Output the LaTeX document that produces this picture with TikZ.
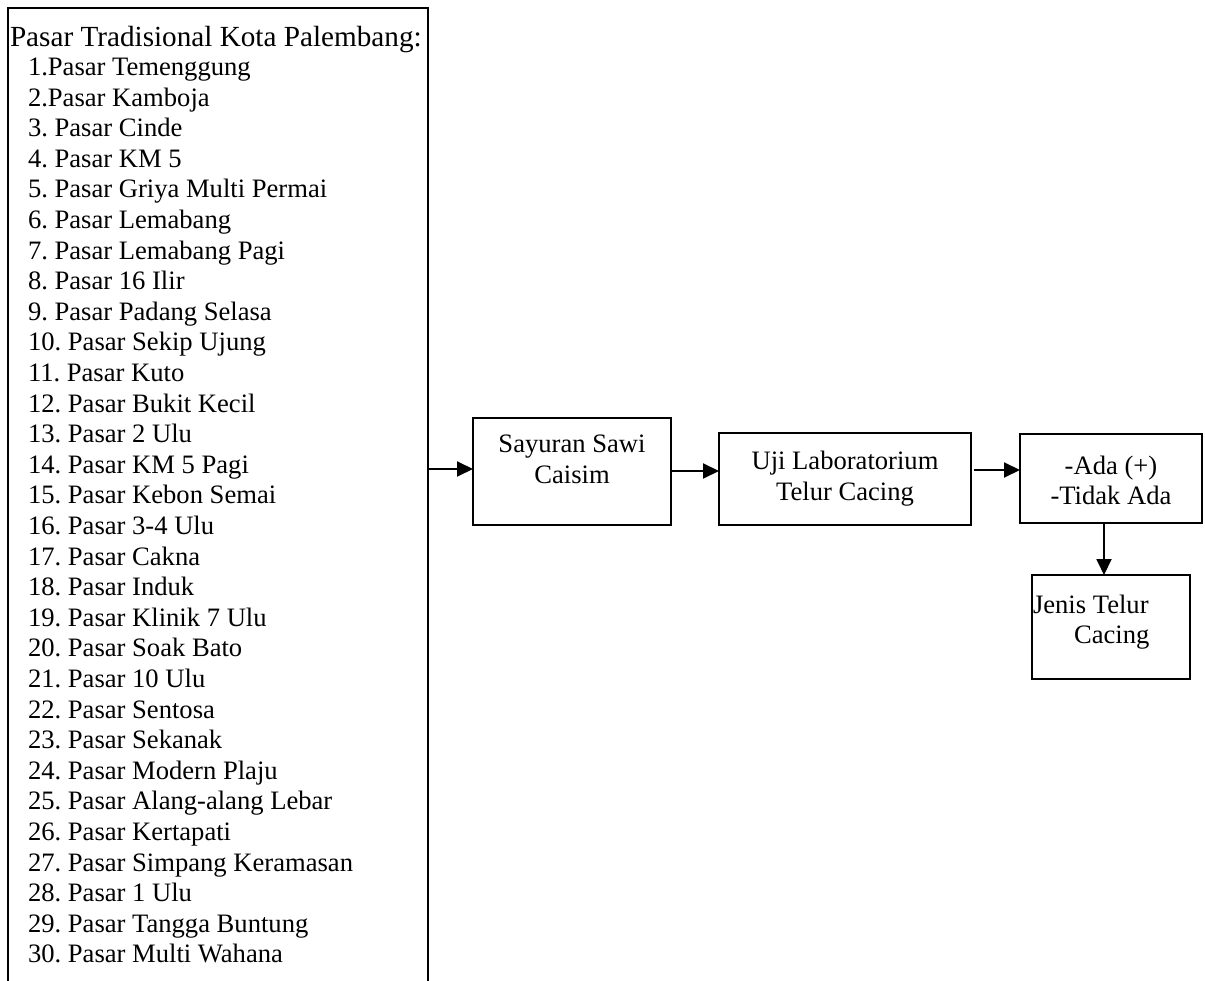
\documentclass[tikz,border=0pt]{standalone}
\usepackage{fontspec}
\setmainfont{Liberation Serif}
\usetikzlibrary{arrows.meta}
\frenchspacing
\begin{document}
\begin{tikzpicture}[x=1pt,y=-1pt,
  lineblk/.style={draw=black,line width=1.9pt},
  bx/.style={draw=black,line width=1.9pt,inner sep=0pt,outer sep=0pt},
  txt/.style={inner sep=0pt,outer sep=0pt,font=\fontsize{26.6}{30.5}\selectfont},
  ttl/.style={inner sep=0pt,outer sep=0pt,font=\fontsize{29.2}{33}\selectfont},
  arr/.style={line width=1.9pt,-{Triangle[length=16pt,width=15pt]}}]
\useasboundingbox (0,0) rectangle (1205,981);
% left list box (open at bottom)
\coordinate (lbl) at (8,995);
\coordinate (ltl) at (8,8);
\coordinate (ltr) at (428,8);
\coordinate (lbr) at (428,995);
\draw[lineblk] (lbl) -- (ltl) -- (ltr) -- (lbr);
\node[ttl,anchor=base west] (title) at (10,47) {Pasar Tradisional Kota Palembang:};
\foreach \n/\t in {1/1.Pasar Temenggung,2/2.Pasar Kamboja,3/3. Pasar Cinde,4/4. Pasar KM 5,
  5/5. Pasar Griya Multi Permai,6/6. Pasar Lemabang,7/7. Pasar Lemabang Pagi,8/8. Pasar 16 Ilir,
  9/9. Pasar Padang Selasa,10/10. Pasar Sekip Ujung,11/11. Pasar Kuto,12/12. Pasar Bukit Kecil,
  13/13. Pasar 2 Ulu,14/14. Pasar KM 5 Pagi,15/15. Pasar Kebon Semai,16/16. Pasar 3-4 Ulu,
  17/17. Pasar Cakna,18/18. Pasar Induk,19/19. Pasar Klinik 7 Ulu,20/20. Pasar Soak Bato,
  21/21. Pasar 10 Ulu,22/22. Pasar Sentosa,23/23. Pasar Sekanak,24/24. Pasar Modern Plaju,
  25/25. Pasar Alang-alang Lebar,26/26. Pasar Kertapati,27/27. Pasar Simpang Keramasan,
  28/28. Pasar 1 Ulu,29/29. Pasar Tangga Buntung,30/30. Pasar Multi Wahana}
  {\node[txt,anchor=base west] (item\n) at (28,{75.5+30.6*(\n-1)}) {\t};}
% boxes
\node[bx,minimum width=198pt,minimum height=107pt] (say) at (572,471.5) {};
\node[txt,anchor=base] (say1) at (572,453) {Sayuran Sawi};
\node[txt,anchor=base] (say2) at (572,483) {Caisim};
\node[bx,minimum width=252pt,minimum height=92pt] (uji) at (845,479) {};
\node[txt,anchor=base] (uji1) at (845,469) {Uji Laboratorium};
\node[txt,anchor=base] (uji2) at (845,500) {Telur Cacing};
\node[bx,minimum width=182pt,minimum height=89pt] (ada) at (1111,478.5) {};
\node[txt,anchor=base] (ada1) at (1111,474) {-Ada (+)};
\node[txt,anchor=base] (ada2) at (1111,504) {-Tidak Ada};
\node[bx,minimum width=158pt,minimum height=104pt] (jen) at (1111,627) {};
\node[txt,anchor=base west] (jen1) at (1033,613) {Jenis Telur};
\node[txt,anchor=base west] (jen2) at (1074,643) {Cacing};
% connectors
\coordinate (a1) at (428,469);
\draw[arr] (a1) -- (a1 -| say.west);
\coordinate (a2) at (0,471);
\draw[arr] (say.east |- a2) -- (uji.west |- a2);
\coordinate (a3) at (974,470);
\draw[arr] (a3) -- (a3 -| ada.west);
\coordinate (dx) at (1104,0);
\draw[arr] (ada.south -| dx) -- (jen.north -| dx);
\end{tikzpicture}
\end{document}
